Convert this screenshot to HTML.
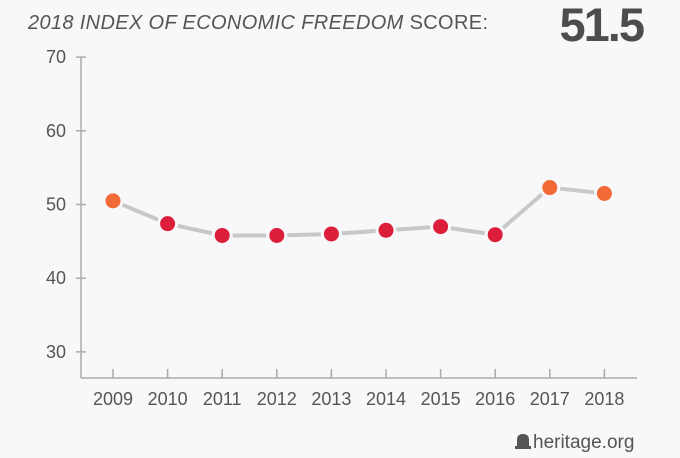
<!DOCTYPE html>
<html><head><meta charset="utf-8"><style>
body{margin:0;background:#f8f8fa;width:680px;height:453px;overflow:hidden;font-family:"Liberation Sans",sans-serif;}
</style></head><body>
<svg width="680" height="453">
<text x="28" y="29" font-size="20" fill="#555" textLength="460" lengthAdjust="spacing"><tspan font-style="italic">2018 INDEX OF ECONOMIC FREEDOM</tspan> SCORE:</text>
<text x="643" y="41" font-size="47" font-weight="bold" fill="#4d4d4d" text-anchor="end" letter-spacing="-2">51.5</text>
<g id="axes"></g>
<g id="series"></g>
<g>
<path d="M515 449 v-3 h2 v-6 q0-6 6-6 q6 0 6 6 v6 h2 v3 z" fill="#555"/>
<text x="533" y="448" font-size="19" fill="#555">heritage.org</text>
</g>
</svg>
<script>
const years=["2009","2010","2011","2012","2013","2014","2015","2016","2017","2018"];
const scores=[50.5,47.4,45.8,45.8,46.0,46.5,47.0,45.9,52.3,51.5];
const yTicks=[30,40,50,60,70];
const NS="http://www.w3.org/2000/svg";
const x=i=>113+i*54.6;
const y=v=>204.5-(v-50)*7.37;
function mk(t,a,p){const e=document.createElementNS(NS,t);for(const k in a)e.setAttribute(k,a[k]);p.appendChild(e);return e;}
const ax=document.getElementById('axes'),se=document.getElementById('series');
const ya=mk('line',{x1:81,x2:81,y1:y(70),y2:378,stroke:'#aaa','stroke-width':1.5},ax);


const xa=mk('line',{x1:81,x2:637,y1:378,y2:378,stroke:'#aaa','stroke-width':1.5},ax);


yTicks.forEach(v=>{
 mk('line',{x1:76,x2:86,y1:y(v),y2:y(v),stroke:'#aaa','stroke-width':1.5},ax);
 const t=mk('text',{x:66,y:y(v)+6,'font-size':18,fill:'#555','text-anchor':'end'},ax);t.textContent=v;
 
 
});
years.forEach((yr,i)=>{
 mk('line',{x1:x(i),x2:x(i),y1:369,y2:378,stroke:'#aaa','stroke-width':1.5},ax);
 const t=mk('text',{x:x(i),y:405,'font-size':18,fill:'#555','text-anchor':'middle'},ax);t.textContent=yr;
 
 
});
const ln=mk('polyline',{points:scores.map((v,i)=>x(i)+','+y(v)).join(' '),fill:'none',stroke:'#c8c8c8','stroke-width':4},se);


scores.forEach((v,i)=>{
 const c=mk('circle',{cx:x(i),cy:y(v),r:9,fill:v>=50?'#f26a35':'#dc1e3a',stroke:'#f8f8fa','stroke-width':3},se);
 
 
});
</script>
</body></html>
